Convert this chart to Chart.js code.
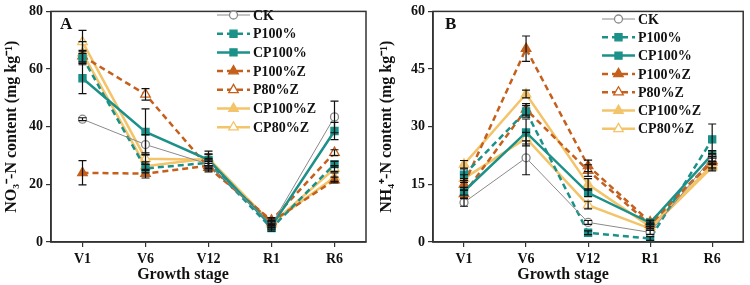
<!DOCTYPE html>
<html><head><meta charset="utf-8">
<script src="https://cdn.jsdelivr.net/npm/chart.js@4/dist/chart.umd.min.js"></script>
<style>
body{margin:0;background:#fff;width:750px;height:285px;overflow:hidden;position:relative}
.p{position:absolute;top:0;width:375px;height:285px}
</style></head><body>
<div class="p" style="left:0"><canvas id="a" width="375" height="285"></canvas></div>
<div class="p" style="left:375px"><canvas id="b" width="375" height="285"></canvas></div>
<script>
// ---- data ----
const stages = ['V1','V6','V12','R1','R6'];
const treatments = ['CK','P100%','CP100%','P100%Z','P80%Z','CP100%Z','CP80%Z'];
const xTitle = 'Growth stage';

// Panel A: NO3- -N content (mg/kg)
const no3_CK      = [42.6, 33.8, 27.0, 6.0, 43.4];
const no3_P100    = [64.0, 25.5, 27.5, 4.8, 27.0];
const no3_CP100   = [56.8, 38.2, 28.5, 5.5, 38.5];
const no3_P100Z   = [24.0, 23.7, 26.5, 7.0, 21.5];
const no3_P80Z    = [64.5, 51.2, 25.8, 7.5, 31.0];
const no3_CP100Z  = [65.5, 26.3, 29.0, 6.5, 22.5];
const no3_CP80Z   = [69.4, 28.9, 28.5, 6.2, 25.5];
const no3_err_CK     = [0.5, 3.5, 1.5, 1.0, 5.5];
const no3_err_P100   = [2.0, 1.5, 1.5, 1.0, 1.0];
const no3_err_CP100  = [5.3, 8.0, 2.0, 1.0, 3.0];
const no3_err_P100Z  = [4.2, 1.5, 1.5, 1.0, 1.0];
const no3_err_P80Z   = [2.0, 2.0, 1.5, 1.0, 1.0];
const no3_err_CP100Z = [4.0, 1.5, 2.5, 1.0, 1.5];
const no3_err_CP80Z  = [4.0, 2.0, 2.0, 1.0, 1.0];

// Panel B: NH4+ -N content (mg/kg)
const nh4_CK      = [10.3, 21.9, 5.1, 2.5, 22.0];
const nh4_P100    = [17.5, 34.0, 2.4, 0.9, 26.7];
const nh4_CP100   = [13.2, 28.5, 12.8, 5.0, 22.8];
const nh4_P100Z   = [15.0, 50.3, 19.8, 5.2, 20.8];
const nh4_P80Z    = [12.5, 34.5, 18.6, 4.5, 21.2];
const nh4_CP100Z  = [20.2, 38.5, 15.0, 4.0, 20.0];
const nh4_CP80Z   = [16.5, 27.0, 9.6, 3.5, 19.5];
const nh4_err_CK     = [1.0, 4.4, 0.5, 0.5, 1.0];
const nh4_err_P100   = [1.5, 1.5, 0.5, 0.5, 4.0];
const nh4_err_CP100  = [1.0, 3.5, 1.0, 0.5, 1.0];
const nh4_err_P100Z  = [1.5, 3.3, 1.5, 0.5, 1.5];
const nh4_err_P80Z   = [1.0, 1.5, 1.5, 0.5, 1.0];
const nh4_err_CP100Z = [1.0, 1.0, 1.5, 0.5, 1.0];
const nh4_err_CP80Z  = [1.0, 1.5, 1.0, 0.5, 1.0];

const ticksA = [0, 20, 40, 60, 80];
const ticksB = [0, 15, 30, 45, 60];

// ---- styles ----
const TEAL = '#1b9189', BROWN = '#c4601c', YELLOW = '#f3c46a', GRAY = '#8a8a8a';
const FONT = '"Liberation Serif", "Times New Roman", serif';
const styles = [
  {color: GRAY,   dash: [],     point: 'circle',   fill: false, width: 1,   r: 4},
  {color: TEAL,   dash: [6, 4], point: 'rect',     fill: true,  width: 2.5, r: 5},
  {color: TEAL,   dash: [],     point: 'rect',     fill: true,  width: 2.5, r: 5},
  {color: BROWN,  dash: [6, 4], point: 'triangle', fill: true,  width: 2.5, r: 5.5},
  {color: BROWN,  dash: [6, 4], point: 'triangle', fill: false, width: 2.5, r: 5.5},
  {color: YELLOW, dash: [],     point: 'triangle', fill: true,  width: 2.5, r: 5.5},
  {color: YELLOW, dash: [],     point: 'triangle', fill: false, width: 2.5, r: 5.5}
];

function makeDatasets(series, errs) {
  return series.map((vals, i) => {
    const s = styles[i];
    return {
      label: treatments[i], data: vals, errors: errs[i],
      borderColor: s.color, borderWidth: s.width, borderDash: s.dash,
      pointStyle: s.point, pointRadius: s.r, pointHoverRadius: s.r,
      pointBackgroundColor: s.fill ? s.color : '#ffffff',
      pointBorderColor: s.color, pointBorderWidth: 1.3,
      tension: 0, fill: false
    };
  });
}

const errorBars = {
  id: 'errorBars',
  afterDatasetsDraw(chart) {
    const ctx = chart.ctx, ys = chart.scales.y;
    ctx.save();
    ctx.strokeStyle = '#111'; ctx.lineWidth = 1.2; ctx.setLineDash([]);
    chart.data.datasets.forEach((ds, di) => {
      const meta = chart.getDatasetMeta(di);
      meta.data.forEach((pt, i) => {
        const v = ds.data[i], e = ds.errors[i];
        const yt = ys.getPixelForValue(v + e), yb = ys.getPixelForValue(v - e), x = pt.x;
        ctx.beginPath();
        ctx.moveTo(x, yt); ctx.lineTo(x, yb);
        ctx.moveTo(x - 4, yt); ctx.lineTo(x + 4, yt);
        ctx.moveTo(x - 4, yb); ctx.lineTo(x + 4, yb);
        ctx.stroke();
      });
    });
    ctx.restore();
  }
};

const frameAndLegend = {
  id: 'frameAndLegend',
  afterDraw(chart, args, opts) {
    const ctx = chart.ctx, a = chart.chartArea, xs = chart.scales.x;
    ctx.save();
    ctx.strokeStyle = '#333'; ctx.lineWidth = 1.5; ctx.setLineDash([]);
    ctx.strokeRect(a.left, a.top, a.right - a.left, a.bottom - a.top);
    // x-axis title (sits left of centre, as in the original figure)
    ctx.fillStyle = '#111';
    ctx.font = 'bold 16px ' + FONT;
    ctx.textAlign = 'center'; ctx.textBaseline = 'alphabetic';
    const xc = (xs.getPixelForValue(1) + xs.getPixelForValue(2)) / 2 + 6;
    ctx.fillText(xTitle, xc, 279);
    // panel letter
    ctx.font = 'bold 17px ' + FONT;
    ctx.textBaseline = 'middle'; ctx.textAlign = 'left';
    ctx.fillText(opts.letter, a.left + opts.letterDx, 25);
    // legend
    chart.data.datasets.forEach((ds, i) => {
      const y = opts.y0 + i * opts.dy, x0 = a.left + opts.dx;
      ctx.strokeStyle = ds.borderColor; ctx.lineWidth = ds.borderWidth;
      ctx.setLineDash(ds.borderDash);
      ctx.beginPath(); ctx.moveTo(x0, y); ctx.lineTo(x0 + 33, y); ctx.stroke();
      ctx.setLineDash([]);
      ctx.fillStyle = ds.pointBackgroundColor; ctx.strokeStyle = ds.pointBorderColor;
      ctx.lineWidth = ds.pointBorderWidth;
      Chart.helpers.drawPoint(ctx, {pointStyle: ds.pointStyle, radius: ds.pointRadius, rotation: 0, borderWidth: ds.pointBorderWidth}, x0 + 16.5, y);
      ctx.fillStyle = '#111';
      ctx.font = 'bold 14px ' + FONT;
      ctx.textBaseline = 'middle';
      ctx.fillText(ds.label, x0 + 36, y + 1);
    });
    ctx.restore();
  }
};

function makeChart(id, datasets, ticks, yTitle, yAxisWidth, rightPad, leg) {
  return new Chart(document.getElementById(id), {
    type: 'line',
    data: {labels: stages, datasets},
    plugins: [errorBars, frameAndLegend],
    options: {
      responsive: false, animation: false, devicePixelRatio: 1,
      layout: {padding: {left: 0, right: rightPad, top: 6, bottom: 0}},
      plugins: {legend: {display: false}, tooltip: {enabled: false}, frameAndLegend: leg},
      scales: {
        x: {
          offset: true,
          grid: {display: true, drawOnChartArea: false, drawTicks: true, tickLength: 5, offset: false, color: '#333', lineWidth: 1.2},
          border: {display: true, color: '#333', width: 1.5},
          ticks: {color: '#111', font: {family: FONT, size: 14, weight: 'bold'}, padding: 4, maxRotation: 0},
          title: {display: false},
          afterFit: s => { s.height = 43; }
        },
        y: {
          min: ticks[0], max: ticks[ticks.length - 1],
          afterBuildTicks: s => { s.ticks = ticks.map(v => ({value: v})); },
          grid: {display: true, drawOnChartArea: false, drawTicks: true, tickLength: 5, color: '#333', lineWidth: 1.2},
          border: {display: true, color: '#333', width: 1.5},
          ticks: {color: '#111', font: {family: FONT, size: 14, weight: 'bold'}, padding: 3},
          title: {display: true, text: yTitle, color: '#111', font: {family: FONT, size: 16, weight: 'bold'}, padding: {top: 2, bottom: 0}},
          afterFit: s => { s.width = yAxisWidth; }
        }
      }
    }
  });
}

makeChart('a',
  makeDatasets([no3_CK, no3_P100, no3_CP100, no3_P100Z, no3_P80Z, no3_CP100Z, no3_CP80Z],
               [no3_err_CK, no3_err_P100, no3_err_CP100, no3_err_P100Z, no3_err_P80Z, no3_err_CP100Z, no3_err_CP80Z]),
  ticksA, 'NO\u2083\u207B-N content (mg kg\u207B\u00B9)', 51, 9,
  {letter: 'A', letterDx: 9, dx: 166, y0: 15, dy: 18.7});

makeChart('b',
  makeDatasets([nh4_CK, nh4_P100, nh4_CP100, nh4_P100Z, nh4_P80Z, nh4_CP100Z, nh4_CP80Z],
               [nh4_err_CK, nh4_err_P100, nh4_err_CP100, nh4_err_P100Z, nh4_err_P80Z, nh4_err_CP100Z, nh4_err_CP80Z]),
  ticksB, 'NH\u2084\u207A-N content (mg kg\u207B\u00B9)', 58, 3,
  {letter: 'B', letterDx: 12, dx: 169, y0: 19, dy: 18.3});
</script>
</body></html>
